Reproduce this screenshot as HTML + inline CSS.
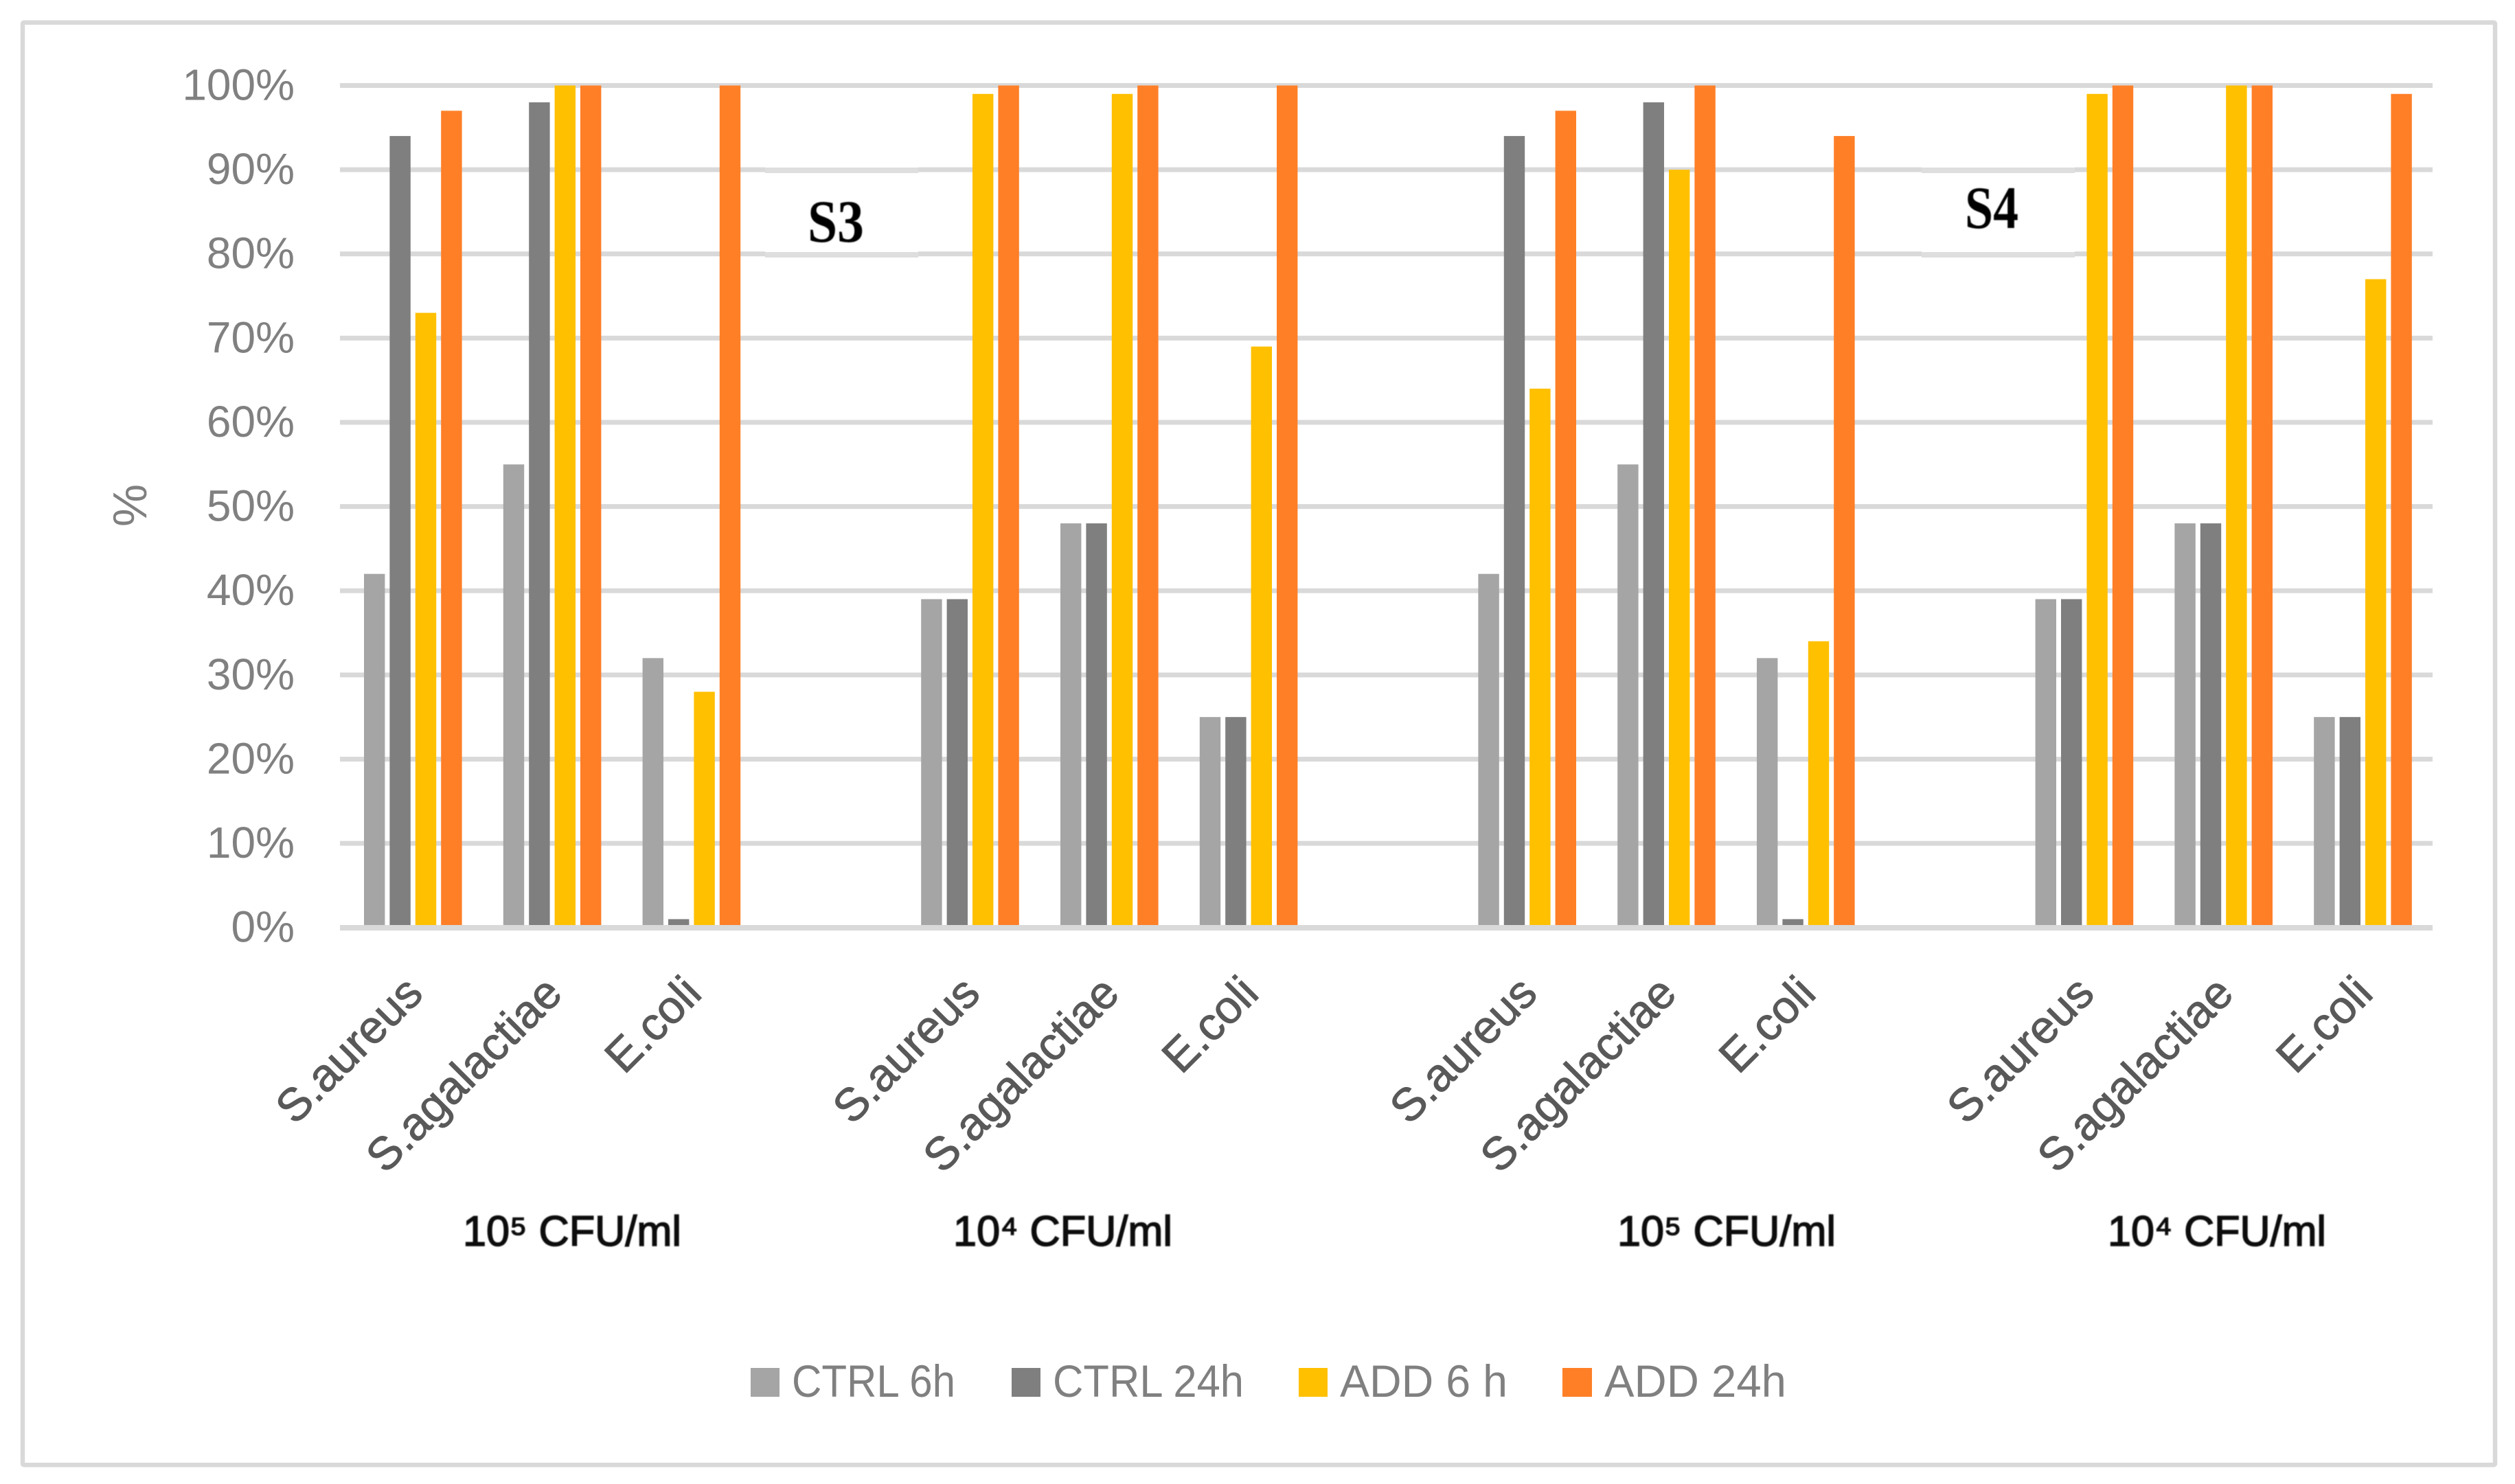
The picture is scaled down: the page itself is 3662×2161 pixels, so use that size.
<!DOCTYPE html>
<html lang="en">
<head>
<meta charset="utf-8">
<title>Bacterial inhibition chart</title>
<style>
html,body{margin:0;padding:0;background:#fff;width:3662px;height:2161px;overflow:hidden}
svg{display:block}
text{font-family:"Liberation Sans",sans-serif}
</style>
</head>
<body>
<svg id="chart" xmlns="http://www.w3.org/2000/svg" width="3662" height="2161" viewBox="0 0 3662 2161">
  <defs><filter id="soft" x="-5%" y="-20%" width="110%" height="140%"><feGaussianBlur stdDeviation="0.9"/></filter></defs>
  <rect x="0" y="0" width="3662" height="2161" fill="#fff"/>
  <rect x="33" y="32.7" width="3600" height="2100.5" rx="2" fill="#fff" stroke="#d9d9d9" stroke-width="6.5"/>
  <g id="grid"></g>
  <g>
    <rect x="1114" y="236" width="223" height="146" fill="#fff"/>
    <rect x="1114" y="244" width="223" height="8" fill="#dedede"/>
    <rect x="1114" y="367" width="223" height="8" fill="#dedede"/>
  </g>
  <g>
    <rect x="2798" y="236" width="223" height="146" fill="#fff"/>
    <rect x="2798" y="244" width="223" height="8" fill="#dedede"/>
    <rect x="2798" y="367" width="223" height="8" fill="#dedede"/>
  </g>
  <g id="bars"></g>
  <rect id="axis" x="495" y="1347" width="3047" height="8" fill="#d9d9d9"/>
  <g id="yticks"></g>
  <text transform="translate(213,736) rotate(-90)" text-anchor="middle" font-size="70" fill="#808080">%</text>
  <g id="xticks"></g>
  <text x="1176" y="352" font-size="88" font-weight="bold" textLength="82" lengthAdjust="spacingAndGlyphs" fill="#000" filter="url(#soft)" style="font-family:'Liberation Serif',serif">S3</text>
  <text x="2861" y="332" font-size="88" font-weight="bold" textLength="78" lengthAdjust="spacingAndGlyphs" fill="#000" filter="url(#soft)" style="font-family:'Liberation Serif',serif">S4</text>
  <text x="674" y="1814" font-size="62" textLength="318" lengthAdjust="spacingAndGlyphs" fill="#111" stroke="#111" stroke-width="1.6" filter="url(#soft)">10⁵ CFU/ml</text>
  <text x="1388" y="1814" font-size="62" textLength="319" lengthAdjust="spacingAndGlyphs" fill="#111" stroke="#111" stroke-width="1.6" filter="url(#soft)">10⁴ CFU/ml</text>
  <text x="2355" y="1814" font-size="62" textLength="318" lengthAdjust="spacingAndGlyphs" fill="#111" stroke="#111" stroke-width="1.6" filter="url(#soft)">10⁵ CFU/ml</text>
  <text x="3069" y="1814" font-size="62" textLength="318" lengthAdjust="spacingAndGlyphs" fill="#111" stroke="#111" stroke-width="1.6" filter="url(#soft)">10⁴ CFU/ml</text>
  <g>
    <g>
      <rect x="1093" y="1992" width="42" height="42" fill="#a5a5a5"/>
      <text x="1153" y="2034" font-size="66" textLength="238" lengthAdjust="spacingAndGlyphs" fill="#808080">CTRL 6h</text>
    </g>
    <g>
      <rect x="1473" y="1992" width="42" height="42" fill="#7f7f7f"/>
      <text x="1533" y="2034" font-size="66" textLength="278" lengthAdjust="spacingAndGlyphs" fill="#808080">CTRL 24h</text>
    </g>
    <g>
      <rect x="1891" y="1992" width="42" height="42" fill="#ffc000"/>
      <text x="1951" y="2034" font-size="66" textLength="244" lengthAdjust="spacingAndGlyphs" fill="#808080">ADD 6 h</text>
    </g>
    <g>
      <rect x="2275" y="1992" width="43" height="42" fill="#ff7f27"/>
      <text x="2336" y="2034" font-size="66" textLength="265" lengthAdjust="spacingAndGlyphs" fill="#808080">ADD 24h</text>
    </g>
  </g>
</svg>
<script>
const categories = ['S.aureus','S.agalactiae','E.coli','','S.aureus','S.agalactiae','E.coli','','S.aureus','S.agalactiae','E.coli','','S.aureus','S.agalactiae','E.coli'];
const ctrl6h  = [42,55,32,null,39,48,25,null,42,55,32,null,39,48,25];
const ctrl24h = [94,98,1,null,39,48,25,null,94,98,1,null,39,48,25];
const add6h   = [73,100,28,null,99,99,69,null,64,90,34,null,99,100,77];
const add24h  = [97,100,100,null,100,100,100,null,97,100,94,null,100,100,99];
const yTicks  = [0,10,20,30,40,50,60,70,80,90,100];

const NS = 'http://www.w3.org/2000/svg';
function yScale(v){ return 1350.7 - v * 12.262; }
function xCenter(i){ return 601 + i * 202.8; }
function barLeft(i, s){ return xCenter(i) - 71 + s * 37.4; }

const gridG = document.getElementById('grid');
const tickG = document.getElementById('yticks');
yTicks.forEach(function(t){
  const y = yScale(t);
  if (t > 0) {
    const line = document.createElementNS(NS, 'rect');
    
    
    line.setAttribute('x', 495);
    line.setAttribute('y', y - 3.5);
    line.setAttribute('width', 3047);
    line.setAttribute('height', 7);
    line.setAttribute('fill', '#d9d9d9');
    gridG.appendChild(line);
  }
  const label = document.createElementNS(NS, 'text');
  
  
  label.setAttribute('x', 429);
  label.setAttribute('y', y + 21);
  label.setAttribute('text-anchor', 'end');
  label.setAttribute('font-size', 64);
  label.setAttribute('fill', '#808080');
  label.textContent = t + '%';
  tickG.appendChild(label);
});

const barsG = document.getElementById('bars');
function drawSeries(values, seriesIndex, color, seriesName){
  values.forEach(function(v, i){
    if (v === null) return;
    const bar = document.createElementNS(NS, 'rect');
    
    
    bar.setAttribute('x', barLeft(i, seriesIndex));
    bar.setAttribute('y', yScale(v));
    bar.setAttribute('width', 30.4);
    bar.setAttribute('height', yScale(0) - yScale(v));
    bar.setAttribute('fill', color);
    barsG.appendChild(bar);
  });
}
drawSeries(ctrl6h, 0, '#a5a5a5', 'ctrl-6h');
drawSeries(ctrl24h, 1, '#7f7f7f', 'ctrl-24h');
drawSeries(add6h, 2, '#ffc000', 'add-6h');
drawSeries(add24h, 3, '#ff7f27', 'add-24h');

const xG = document.getElementById('xticks');
categories.forEach(function(c, i){
  if (!c) return;
  const label = document.createElementNS(NS, 'text');
  
  
  label.setAttribute('text-anchor', 'end');
  label.setAttribute('font-size', 67);
  label.setAttribute('fill', '#595959');
  label.setAttribute('stroke', '#595959');
  label.setAttribute('stroke-width', 1);
  label.setAttribute('transform', 'translate(' + (xCenter(i) + 18) + ',1450) rotate(-45)');
  label.textContent = c;
  xG.appendChild(label);
});
</script>
</body>
</html>
